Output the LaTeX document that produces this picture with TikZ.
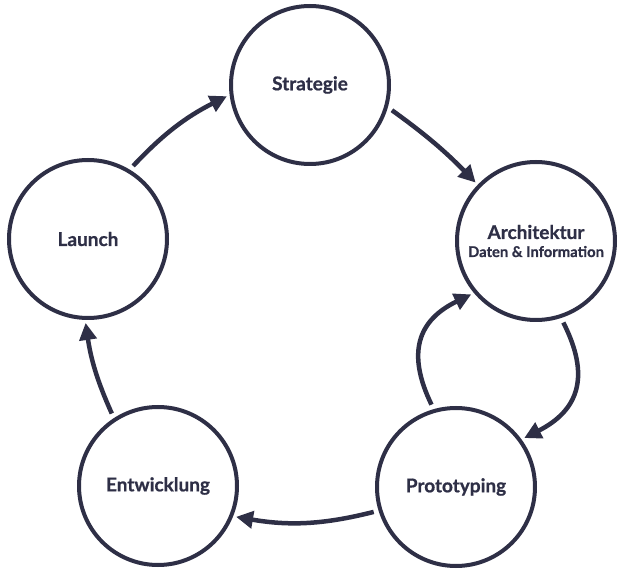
\documentclass[tikz,border=0pt]{standalone}
\usepackage{fontspec}
\setmainfont{Lato}[BoldFeatures={FakeBold=0.8}]
\usepackage{xcolor}
\usetikzlibrary{arrows.meta, calc}

\definecolor{ink}{RGB}{46,47,70}

\tikzset{
	phase/.style={circle, draw=ink, line width=4pt, minimum size=158pt, inner sep=0pt,
		text=ink, align=center, font=\bfseries\fontsize{19}{22}\selectfont},
	flow/.style={draw=ink, line width=4.5pt, -{Triangle[length=17pt,width=17pt]},
		shorten <=5pt, shorten >=3pt}
}

\begin{document}
\begin{tikzpicture}[x=1pt, y=1pt]
	\useasboundingbox (0,0) rectangle (627,571);
	
	\coordinate (cS) at (310,486);
	\coordinate (cA) at (536,330);
	\coordinate (cP) at (456,84);
	\coordinate (cE) at (158,85);
	\coordinate (cL) at (88,332);
	
	\begin{scope}
		\node [phase] (strategie) at (cS) {Strategie};
		\node [phase] (architektur) at (cA) {Architektur\\[-4pt]{\fontsize{14.8}{17}\selectfont Daten \& Information}};
		\node [phase] (prototyping) at (cP) {Prototyping};
		\node [phase] (entwicklung) at (cE) {Entwicklung};
		\node [phase] (launch) at (cL) {Launch};
	\end{scope}
	
	\begin{scope}
		\draw [flow] (launch.59) to [bend left=10] (strategie.187);
		\draw [flow] (strategie.344) to [bend left=5] (architektur.136);
		\draw [flow] (architektur.288) to [bend left=45, looseness=1.3] (prototyping.36);
		\draw [flow] (prototyping.106) to [bend left=45, looseness=1.3] (architektur.220);
		\draw [flow] (prototyping.197) to [bend left=12] (entwicklung.338);
		\draw [flow] (entwicklung.123) to [bend left=8] (launch.268);
	\end{scope}
\end{tikzpicture}
\end{document}
